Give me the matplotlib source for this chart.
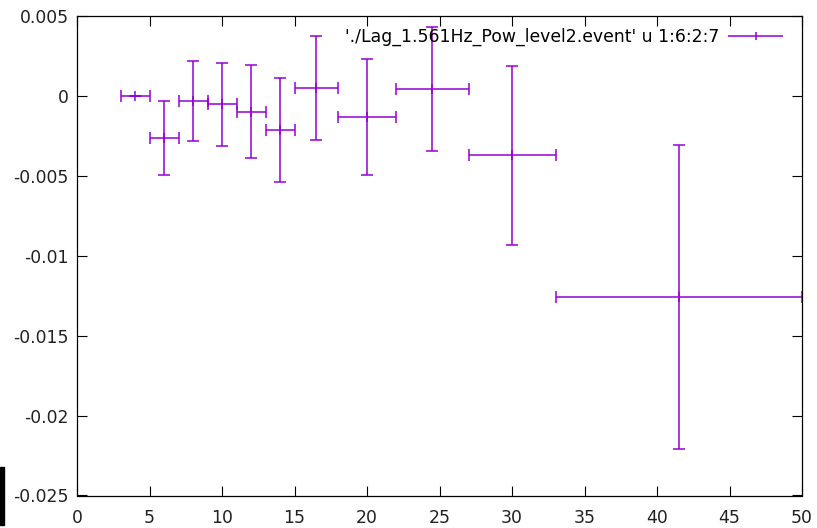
import matplotlib.pyplot as plt
from matplotlib.legend_handler import HandlerErrorbar
from matplotlib.patches import Rectangle

# columns 1:6:2:7 of the event file -> x, y, xerr, yerr
x = [4.0, 6.0, 8.0, 10.0, 12.0, 14.0, 16.5, 20.0, 24.5, 30.0, 41.5]
y = [0.0, -0.00263, -0.0003, -0.00051, -0.00099, -0.00213, 0.00049, -0.00132, 0.00043, -0.0037, -0.01259]
xerr = [1.0, 1.0, 1.0, 1.0, 1.0, 1.0, 1.5, 2.0, 2.5, 3.0, 8.5]
yerr = [0.0, 0.00232, 0.0025, 0.0026, 0.0029, 0.00325, 0.00323, 0.0036, 0.00388, 0.0056, 0.0095]

label = "'./Lag_1.561Hz_Pow_level2.event' u 1:6:2:7"
xticks = [0, 5, 10, 15, 20, 25, 30, 35, 40, 45, 50]
yticks = [0.005, 0, -0.005, -0.01, -0.015, -0.02, -0.025]
ytick_labels = ["0.005", "0", "-0.005", "-0.01", "-0.015", "-0.02", "-0.025"]

COLOR = "#9400d3"

plt.rcParams["font.family"] = "DejaVu Sans"
plt.rcParams["font.size"] = 12.4
plt.rcParams["axes.unicode_minus"] = False

fig = plt.figure(figsize=(8.17, 5.28), dpi=100)
ax = fig.add_axes([77 / 817, 32.5 / 528, 725 / 817, 479.5 / 528])

# '|' marker gives the small centre tick like gnuplot's xyerrorbars
ax.errorbar(x, y, xerr=xerr, yerr=yerr, fmt="|", color=COLOR, ms=7,
            mew=1.1, elinewidth=1.1, capsize=4, capthick=1.1)

# legend sample: horizontal bar with caps and a centre tick
proxy = ax.errorbar([], [], xerr=[], fmt="|", color=COLOR, ms=6, mew=1.1,
                    elinewidth=1.1, capsize=4, capthick=1.1)
ax.legend([proxy], [label], loc="upper right", frameon=False,
          markerfirst=False, numpoints=1, handlelength=3.2,
          handletextpad=0.5, borderaxespad=0.0,
          handler_map={type(proxy): HandlerErrorbar(xerr_size=1.6)},
          bbox_to_anchor=(1 - 12 / 725, 1 - 5 / 479.5))

ax.set_xlim(0, 50)
ax.set_ylim(-0.025, 0.005)
ax.set_xticks(xticks)
ax.set_yticks(yticks)
ax.set_yticklabels(ytick_labels)
ax.tick_params(direction="in", length=7, width=0.8, top=True, right=True,
               colors="black", labelcolor="#222222", pad=6)
ax.tick_params(axis="x", pad=9.5)
for s in ax.spines.values():
    s.set_linewidth(0.9)

# dark strip at the lower left edge
fig.patches.append(Rectangle((0, 3 / 528), 4 / 817, 58 / 528,
                             transform=fig.transFigure, color="black"))

fig.savefig("out.png", dpi=100)
